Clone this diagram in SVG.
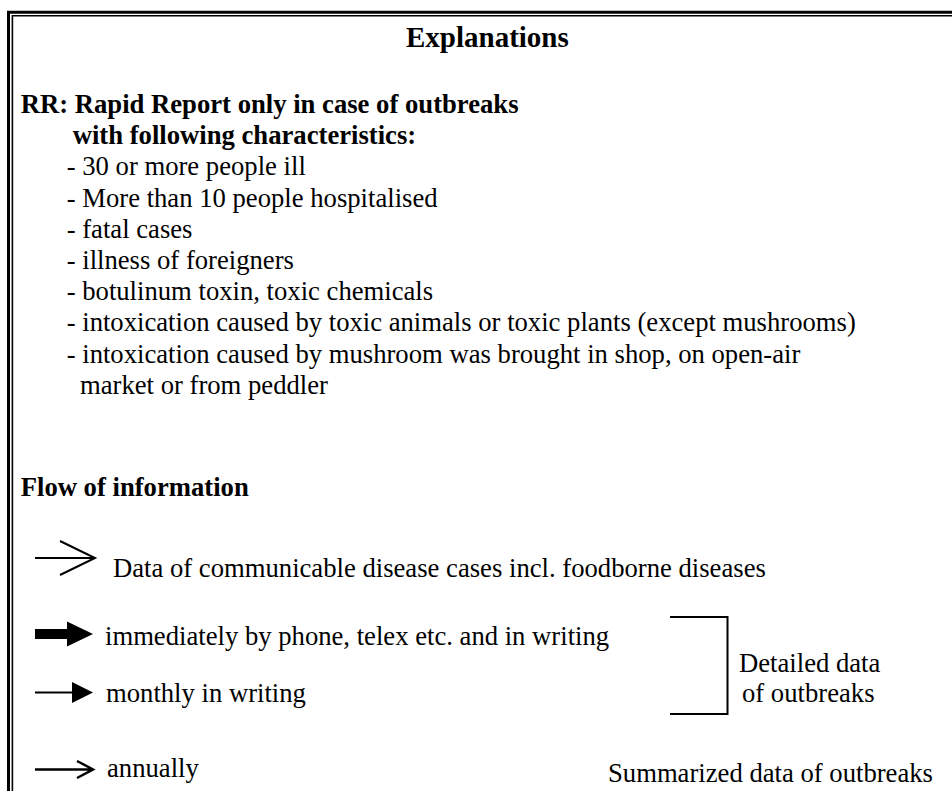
<svg xmlns="http://www.w3.org/2000/svg" width="952" height="791" viewBox="0 0 952 791">
<style>
text{font-family:"Liberation Serif","Times New Roman",serif;font-size:26.67px;fill:#000}
.b{font-weight:bold}
.ln{fill:none;stroke:#000;stroke-width:2}
</style>
<rect width="952" height="791" fill="#fff"/>
<g id="frame">
<path d="M8.5,791 V12.2 H952" fill="none" stroke="#000" stroke-width="3"/>
<path d="M12.4,791 V15.8 H952" fill="none" stroke="#000" stroke-width="1.6"/>
</g>
<g id="title"><text class="b" x="406" y="47" style="font-size:29px">Explanations</text></g>
<g id="rr">
<text class="b" x="20.7" y="113">RR: Rapid Report only in case of outbreaks</text>
<text class="b" x="72.7" y="144">with following characteristics:</text>
<text x="66.7" y="175">- 30 or more people ill</text>
<text x="66.7" y="207">- More than 10 people hospitalised</text>
<text x="66.7" y="238">- fatal cases</text>
<text x="66.7" y="269">- illness of foreigners</text>
<text x="66.7" y="300">- botulinum toxin, toxic chemicals</text>
<text x="66.7" y="331">- intoxication caused by toxic animals or toxic plants (except mushrooms)</text>
<text x="66.7" y="363">- intoxication caused by mushroom was brought in shop, on open-air</text>
<text x="80" y="394">market or from peddler</text>
</g>
<g id="flow-title"><text class="b" x="20.7" y="496">Flow of information</text></g>
<g id="connectors">
<path class="ln" d="M35,558 H95 M60,541 L95,558 L60,575"/>
<path d="M35,629 H67 V621.5 L93,634 L67,646.5 V639 H35 Z" fill="#000"/>
<path class="ln" d="M35,692.5 H74"/>
<path d="M72,682 L93,692.5 L72,703 Z" fill="#000"/>
<path class="ln" d="M35,769.5 H92 M77,761 L93,769.5 L77,778" style="stroke-width:2.5"/>
<path class="ln" d="M670,617 H727.5 V714 H670"/>
</g>
<g id="legend-data"><text x="113" y="577">Data of communicable disease cases incl. foodborne diseases</text></g>
<g id="legend-immediately"><text x="105" y="645">immediately by phone, telex etc. and in writing</text></g>
<g id="legend-monthly"><text x="106" y="702">monthly in writing</text></g>
<g id="legend-annually"><text x="107" y="777">annually</text></g>
<g id="detailed">
<text x="739" y="672">Detailed data</text>
<text x="742" y="702">of outbreaks</text>
</g>
<g id="summarized"><text x="608" y="782">Summarized data of outbreaks</text></g>
</svg>
